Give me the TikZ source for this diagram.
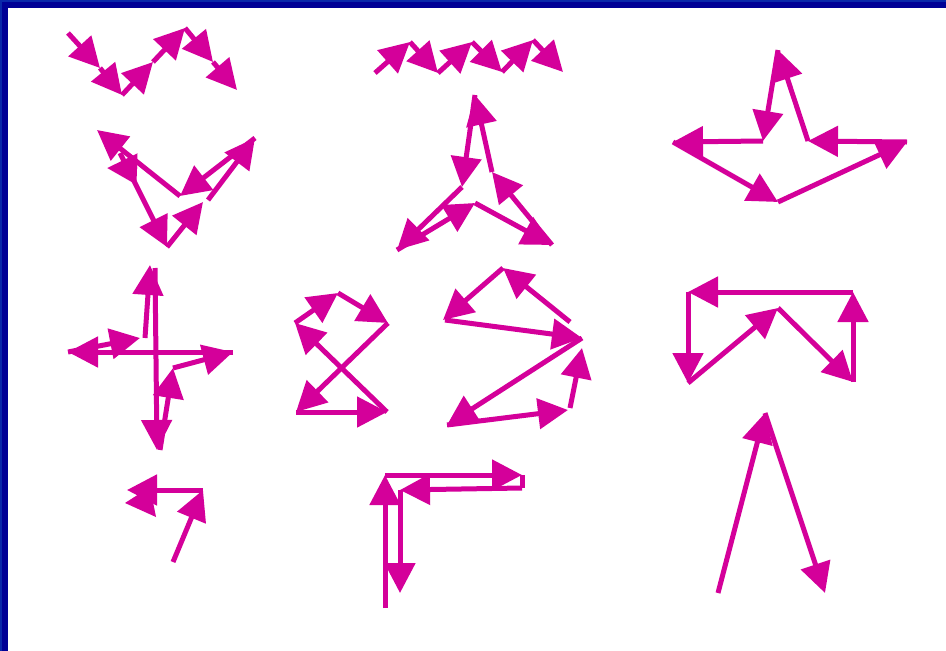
\documentclass[tikz,border=0pt]{standalone}
\usetikzlibrary{arrows.meta}
\definecolor{mag}{RGB}{212,0,154}
\definecolor{bordA}{RGB}{10,40,170}
\definecolor{bordB}{RGB}{0,0,150}
\begin{document}
\begin{tikzpicture}[x=1pt,y=-1pt,
  arr/.style={draw=mag,line width=5pt,-{Triangle[length=30pt,width=30pt]}},
  seg/.style={draw=mag,line width=5pt}]
\useasboundingbox (0,0) rectangle (946,651);
\fill[bordA] (0,0) rectangle (946,651);
\fill[bordB] (2,2) rectangle (946,651);
\fill[white] (8,8) rectangle (946,651);
% group 1
\coordinate (a1) at (68,33); \coordinate (a2) at (100,68); \coordinate (a3) at (122,95);
\coordinate (a4) at (153,62); \coordinate (a5) at (185,28); \coordinate (a6) at (213,62);
\coordinate (a7) at (237,90);
\draw[arr] (a1)--(a2); \draw[arr] (a2)--(a3); \draw[arr] (a3)--(a4);
\draw[arr] (a4)--(a5); \draw[arr] (a5)--(a6); \draw[arr] (a6)--(a7);
% group 2
\coordinate (b1) at (375,73); \coordinate (b2) at (410,42); \coordinate (b3) at (438,73);
\coordinate (b4) at (472,42); \coordinate (b5) at (502,72); \coordinate (b6) at (533,40);
\coordinate (b7) at (563,72);
\draw[arr] (b1)--(b2); \draw[arr] (b2)--(b3); \draw[arr] (b3)--(b4);
\draw[arr] (b4)--(b5); \draw[arr] (b5)--(b6); \draw[arr] (b6)--(b7);
% group 3
\coordinate (c1) at (763,141); \coordinate (c2) at (673,142); \coordinate (c3) at (778,202);
\coordinate (c4) at (907,142); \coordinate (c5) at (808,141); \coordinate (c6) at (778,50);
\draw[arr] (c1)--(c2); \draw[arr] (c2)--(c3); \draw[arr] (c3)--(c4);
\draw[arr] (c4)--(c5); \draw[arr] (c5)--(c6); \draw[arr] (c6)--(c1);
% group 4
\coordinate (d1) at (120,153); \coordinate (d2) at (167,247); \coordinate (d3) at (203,202);
\coordinate (d3b) at (208,200); \coordinate (d4) at (255,138); \coordinate (d5) at (180,196);
\coordinate (d6) at (97,130); \coordinate (d7) at (137,169); \coordinate (d8) at (107,168);
\draw[arr] (d1)--(d2); \draw[arr] (d2)--(d3); \draw[arr] (d3b)--(d4);
\draw[arr] (d4)--(d5); \draw[arr] (d5)--(d6); \draw[arr] (d7)--(d8);
% group 5
\coordinate (e1) at (475,95); \coordinate (e2) at (462,187); \coordinate (e3) at (397,250);
\coordinate (e4) at (475,203); \coordinate (e5) at (552,245); \coordinate (e6) at (492,172);
\draw[arr] (e1)--(e2); \draw[arr] (e2)--(e3); \draw[arr] (e3)--(e4);
\draw[arr] (e4)--(e5); \draw[arr] (e5)--(e6); \draw[arr] (e6)--(e1);
% group 6
\coordinate (f1) at (68,352); \coordinate (f2) at (140,338); \coordinate (f2b) at (145,338);
\coordinate (f3) at (150,265); \coordinate (f3b) at (155,268); \coordinate (f4) at (157,450);
\coordinate (f4b) at (160,450); \coordinate (f5) at (173,368); \coordinate (f6) at (233,352);
\draw[arr] (f1)--(f2); \draw[arr] (f2b)--(f3); \draw[arr] (f3b)--(f4);
\draw[arr] (f4b)--(f5); \draw[arr] (f5)--(f6); \draw[arr] (f6)--(f1);
% group 7 left
\coordinate (g1) at (295,323); \coordinate (g2) at (338,293); \coordinate (g3) at (388,323);
\coordinate (g4) at (296,412); \coordinate (g5) at (387,412);
\draw[arr] (g1)--(g2); \draw[arr] (g2)--(g3); \draw[arr] (g3)--(g4);
\draw[arr] (g4)--(g5); \draw[arr] (g5)--(g1);
% group 7 right
\coordinate (h1) at (503,268); \coordinate (h2) at (443,320); \coordinate (h2b) at (445,320);
\coordinate (h3) at (582,338); \coordinate (h4) at (447,425); \coordinate (h5) at (568,410);
\coordinate (h5b) at (570,408); \coordinate (h6) at (582,348); \coordinate (h7) at (570,322);
\draw[arr] (h1)--(h2); \draw[arr] (h2b)--(h3); \draw[arr] (h3)--(h4);
\draw[arr] (h4)--(h5); \draw[arr] (h5b)--(h6); \draw[arr] (h7)--(h1);
% group 8
\coordinate (i1) at (853,292); \coordinate (i2) at (688,292); \coordinate (i3) at (688,383);
\coordinate (i4) at (778,308); \coordinate (i5) at (853,382);
\draw[arr] (i1)--(i2); \draw[arr] (i2)--(i3); \draw[arr] (i3)--(i4);
\draw[arr] (i4)--(i5); \draw[arr] (i5)--(i1);
% group 9
\coordinate (j1) at (173,562); \coordinate (j2) at (203,490); \coordinate (j3) at (127,490);
\coordinate (j4) at (125,503); \coordinate (j5) at (150,487); \coordinate (j6) at (156,517);
\draw[arr] (j1)--(j2); \draw[arr] (j2)--(j3);
\fill[mag] (j4)--(j5)--(j6)--cycle;
% group 10
\coordinate (k1) at (385,608); \coordinate (k2) at (385,475); \coordinate (k3) at (522,475);
\coordinate (k4) at (522,488); \coordinate (k5) at (400,490); \coordinate (k6) at (400,593);
\draw[arr] (k1)--(k2); \draw[arr] (k2)--(k3); \draw[seg] (k3)--(k4);
\draw[arr] (k4)--(k5); \draw[arr] (k5)--(k6);
% group 11
\coordinate (l1) at (718,593); \coordinate (l2) at (765,413); \coordinate (l3) at (825,593);
\draw[arr] (l1)--(l2); \draw[arr] (l2)--(l3);
\end{tikzpicture}
\end{document}
